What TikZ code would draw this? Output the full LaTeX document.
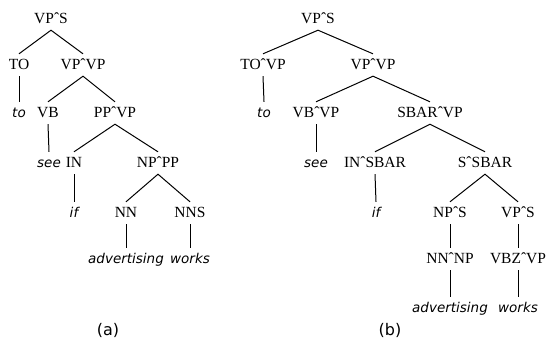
\documentclass[tikz,border=0pt]{standalone}
\usepackage{fontspec}
\setmainfont{Liberation Serif}
\newfontfamily\wordfont{DejaVu Sans}
\newfontfamily\labelfont{DejaVu Sans}
\begin{document}
\begin{tikzpicture}[x=1pt,y=-1pt,
  cat/.style={anchor=base,inner sep=0pt,text height=15.5pt,text depth=6.5pt,
    font=\fontsize{15.5}{18}\selectfont},
  word/.style={anchor=base,inner sep=0pt,text height=15.5pt,text depth=6.5pt,
    font=\wordfont\itshape\fontsize{13.5}{16}\selectfont},
  tlabel/.style={anchor=base,inner sep=0pt,font=\labelfont\fontsize{16}{18}\selectfont},
  branch/.style={draw=black,line width=1pt}]
\useasboundingbox (0,0) rectangle (546,341);
% baselines of the rows
\def\ra{23.5}\def\rb{69.5}\def\rc{117.5}\def\rd{167.5}
\def\re{217.5}\def\rf{263.5}\def\rg{312.5}

% tree (a)
\node[cat]  (a0)  at (51,\ra)  {VPˆS};
\node[cat]  (a1)  at (19,\rb)  {TO};
\node[cat]  (a2)  at (83,\rb)  {VPˆVP};
\node[word] (a3)  at (19,\rc)  {to};
\node[cat]  (a4)  at (48,\rc)  {VB};
\node[cat]  (a5)  at (115,\rc) {PPˆVP};
\node[word] (a6)  at (49,\rd)  {see};
\node[cat]  (a7)  at (74,\rd)  {IN};
\node[cat]  (a8)  at (158,\rd) {NPˆPP};
\node[word] (a9)  at (74,\re)  {if};
\node[cat]  (a10) at (126,\re) {NN};
\node[cat]  (a11) at (190,\re) {NNS};
\node[word] (a12) at (126,\rf) {advertising};
\node[word] (a13) at (190,\rf) {works};
\node[tlabel] (la) at (108,335) {(a)};

\draw[branch] (a1.north) -- (a0.south) -- (a2.north);
\draw[branch] (a1.south) -- (a3.north);
\draw[branch] (a4.north) -- (a2.south) -- (a5.north);
\draw[branch] (a4.south) -- (a6.north);
\draw[branch] (a7.north) -- (a5.south) -- (a8.north);
\draw[branch] (a7.south) -- (a9.north);
\draw[branch] (a10.north) -- (a8.south) -- (a11.north);
\draw[branch] (a10.south) -- (a12.north);
\draw[branch] (a11.south) -- (a13.north);

% tree (b)
\node[cat]  (b0)  at (318,\ra) {VPˆS};
\node[cat]  (b1)  at (263,\rb) {TOˆVP};
\node[cat]  (b2)  at (373,\rb) {VPˆVP};
\node[word] (b3)  at (264,\rc) {to};
\node[cat]  (b4)  at (316,\rc) {VBˆVP};
\node[cat]  (b5)  at (430,\rc) {SBARˆVP};
\node[word] (b6)  at (316,\rd) {see};
\node[cat]  (b7)  at (375,\rd) {INˆSBAR};
\node[cat]  (b8)  at (485,\rd) {SˆSBAR};
\node[word] (b9)  at (376,\re) {if};
\node[cat]  (b10) at (450,\re) {NPˆS};
\node[cat]  (b11) at (518,\re) {VPˆS};
\node[cat]  (b12) at (450,\rf) {NNˆNP};
\node[cat]  (b13) at (518,\rf) {VBZˆVP};
\node[word] (b14) at (450,\rg) {advertising};
\node[word] (b15) at (518,\rg) {works};
\node[tlabel] (lb) at (390,335) {(b)};

\draw[branch] (b1.north) -- (b0.south) -- (b2.north);
\draw[branch] (b1.south) -- (b3.north);
\draw[branch] (b4.north) -- (b2.south) -- (b5.north);
\draw[branch] (b4.south) -- (b6.north);
\draw[branch] (b7.north) -- (b5.south) -- (b8.north);
\draw[branch] (b7.south) -- (b9.north);
\draw[branch] (b10.north) -- (b8.south) -- (b11.north);
\draw[branch] (b10.south) -- (b12.north);
\draw[branch] (b11.south) -- (b13.north);
\draw[branch] (b12.south) -- (b14.north);
\draw[branch] (b13.south) -- (b15.north);
\end{tikzpicture}
\end{document}
